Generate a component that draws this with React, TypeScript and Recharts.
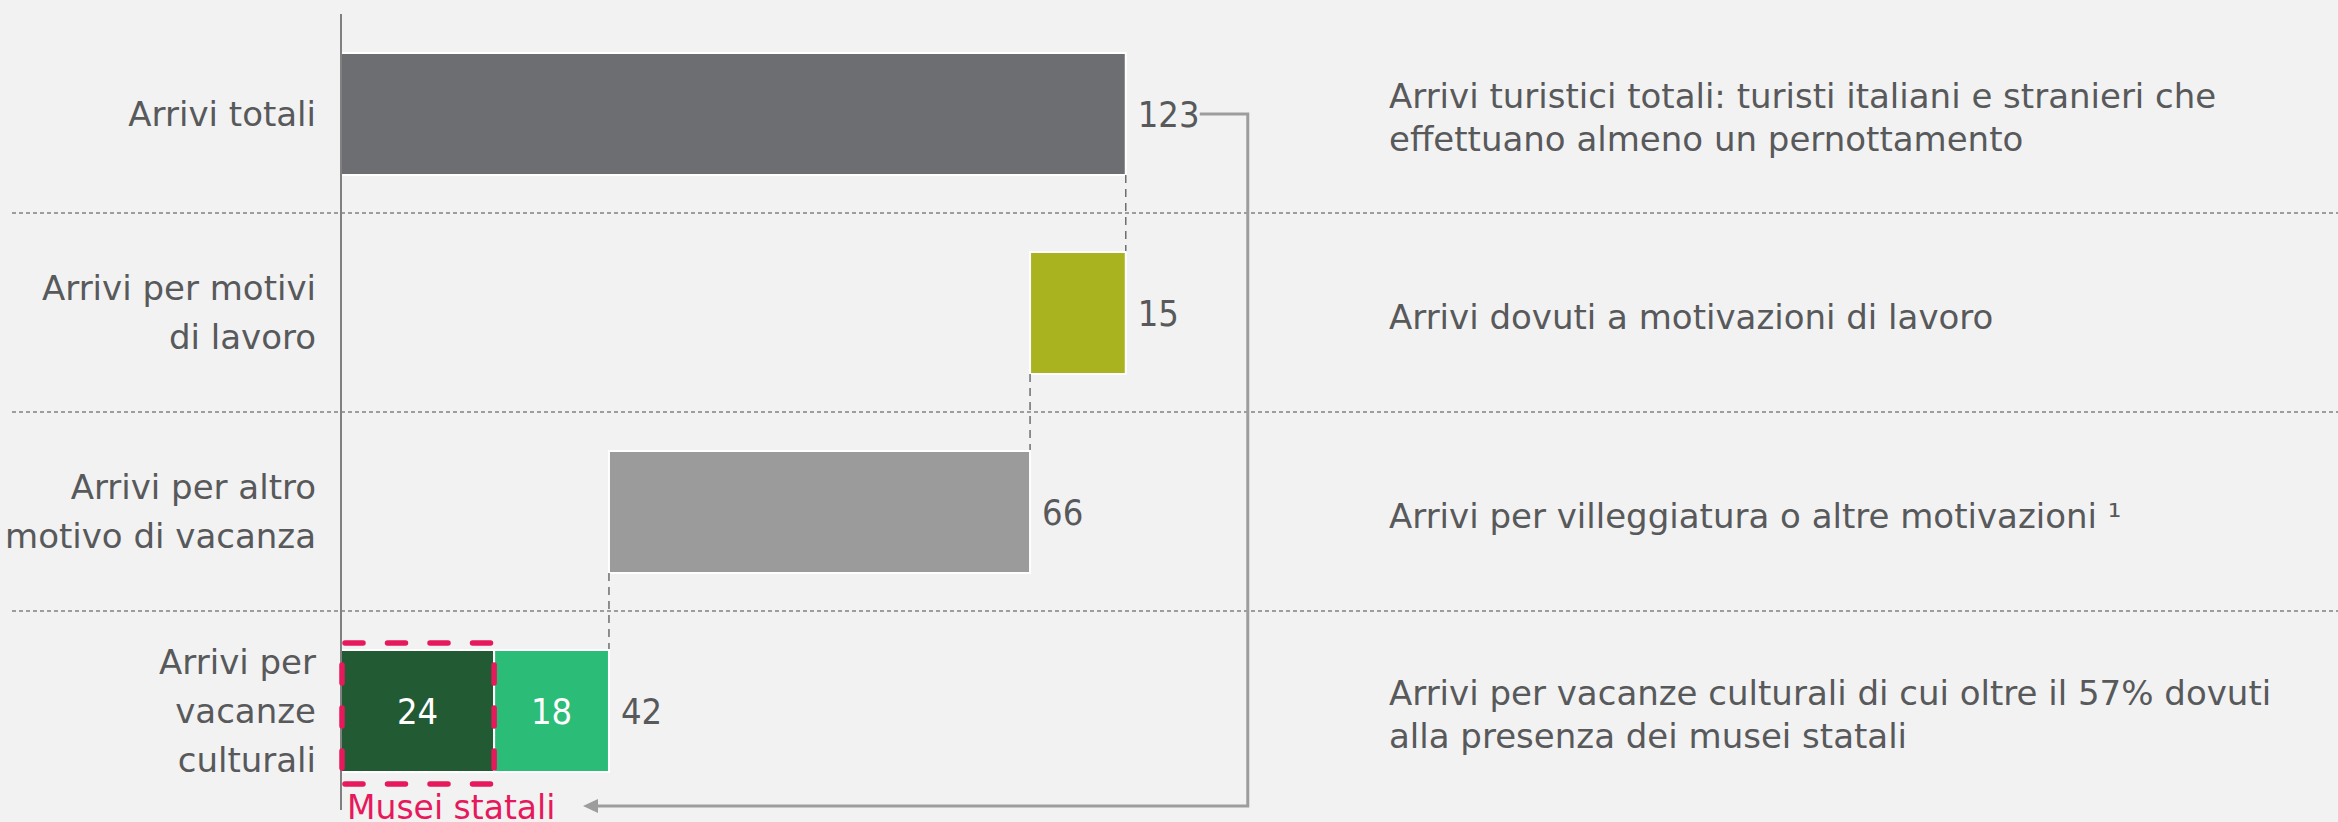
import { BarChart, Bar, XAxis, YAxis, CartesianGrid, LabelList, Rectangle } from "recharts";

const CHART_W = 2338;
const CHART_H = 822;
const MARGIN = { top: 14, right: 0, bottom: 12, left: 0 };
const AXIS_W = 341;
const BAR_SIZE = 122;
const X_MAX = 313;
const FONT = "'DejaVu Sans', sans-serif";
const NUM_FONT = "'DejaVu Sans Condensed', 'DejaVu Sans', sans-serif";
const TEXT = "#58595b";
const PINK = "#e6195c";

const categories = [
  "Arrivi totali",
  "Arrivi per motivi di lavoro",
  "Arrivi per altro motivo di vacanza",
  "Arrivi per vacanze culturali",
];
const categoryLines = [
  ["Arrivi totali"],
  ["Arrivi per motivi", "di lavoro"],
  ["Arrivi per altro", "motivo di vacanza"],
  ["Arrivi per", "vacanze", "culturali"],
];
const descriptions = [
  ["Arrivi turistici totali: turisti italiani e stranieri che", "effettuano almeno un pernottamento"],
  ["Arrivi dovuti a motivazioni di lavoro"],
  ["Arrivi per villeggiatura o altre motivazioni ¹"],
  ["Arrivi per vacanze culturali di cui oltre il 57% dovuti", "alla presenza dei musei statali"],
];
const baseOffsets = [0, 108, 42, 0];
const stepValues = [123, 15, 66, null];
const museiStatali = [null, null, null, 24];
const altriCulturali = [null, null, null, 18];
const totaleCulturali = [null, null, null, 42];
const stepColors = ["#6d6e71", "#a9b21f", "#9b9b9b"];

const data = categories.map((name, i) => ({
  name,
  base: baseOffsets[i],
  step: stepValues[i],
  musei: museiStatali[i],
  altri: altriCulturali[i],
  totale: totaleCulturali[i],
}));

const BAND = (CHART_H - MARGIN.top - MARGIN.bottom) / categories.length;
const GAP = BAND - BAR_SIZE;
const separators = categories.slice(1).map((_, i) => MARGIN.top + (i + 1) * BAND);

function CategoryTick(props: any) {
  const { x, y, payload } = props;
  const i = categories.indexOf(payload.value);
  const lines = categoryLines[i] || [];
  const desc = descriptions[i] || [];
  return (
    <g>
      <text textAnchor="end" fill={TEXT} fontSize={34} fontFamily={FONT}>
        {lines.map((l, k) => (
          <tspan key={k} x={x} y={y + (k - (lines.length - 1) / 2) * 49 + 12}>
            {l}
          </tspan>
        ))}
      </text>
      <text textAnchor="start" fill={TEXT} fontSize={34} fontFamily={FONT}>
        {desc.map((l, k) => (
          <tspan key={k} x={1389} y={y + (k - (desc.length - 1) / 2) * 43 + 16}>
            {l}
          </tspan>
        ))}
      </text>
    </g>
  );
}

function connector(x: number, y: number) {
  return (
    <line x1={x} x2={x} y1={y - GAP} y2={y} stroke="#6d6e71" strokeWidth={1.5} strokeDasharray="8 6" />
  );
}

function StepShape(props: any) {
  const { x, y, width, height, index } = props;
  if (!width || !height) return <g />;
  return (
    <g>
      {index > 0 && connector(x + width, y)}
      <Rectangle x={x} y={y} width={width} height={height} fill={stepColors[index]} stroke="#ffffff" strokeWidth={2} />
    </g>
  );
}

function AltriShape(props: any) {
  const { x, y, width, height } = props;
  if (!width || !height) return <g />;
  return (
    <g>
      {connector(x + width, y)}
      <Rectangle x={x} y={y} width={width} height={height} fill="#2bbc78" stroke="#ffffff" strokeWidth={2} />
    </g>
  );
}

function MuseiShape(props: any) {
  const { x, y, width, height } = props;
  if (!width || !height) return <g />;
  return <Rectangle x={x} y={y} width={width} height={height} fill="#225b33" stroke="#ffffff" strokeWidth={2} />;
}

function box(props: any) {
  const vb = props.viewBox && props.viewBox.width != null ? props.viewBox : props;
  return { x: vb.x, y: vb.y, width: vb.width, height: vb.height };
}

function OutsideLabel(props: any) {
  const { value, index } = props;
  if (value == null) return null;
  const { x, y, width, height } = box(props);
  const tx = x + width + 12;
  const cy = y + height / 2;
  const tipX = MARGIN.left + AXIS_W + 242;
  const bottomY = CHART_H - 16;
  return (
    <g>
      <text x={tx} y={cy + 13} fill={TEXT} fontSize={36} fontFamily={NUM_FONT} style={{ fontStretch: "condensed" }}>
        {value}
      </text>
      {index === 0 && (
        <g>
          <path
            d={`M ${tx + 62} ${cy} H ${tx + 110} V ${bottomY} H ${tipX + 14}`}
            fill="none"
            stroke="#9d9d9d"
            strokeWidth={3}
          />
          <polygon points={`${tipX},${bottomY} ${tipX + 15},${bottomY - 7} ${tipX + 15},${bottomY + 7}`} fill="#9d9d9d" />
        </g>
      )}
    </g>
  );
}

function InsideLabel(props: any) {
  const { value } = props;
  if (value == null) return null;
  const { x, y, width, height } = box(props);
  return (
    <text
      x={x + width / 2}
      y={y + height / 2 + 13}
      textAnchor="middle"
      fill="#ffffff"
      fontSize={36}
      fontFamily={NUM_FONT}
      style={{ fontStretch: "condensed" }}
    >
      {value}
    </text>
  );
}

// pink dashed frame around the "musei statali" segment, drawn above all bars
function MuseiLabel(props: any) {
  const { value } = props;
  if (value == null) return null;
  const { x, y, width, height } = box(props);
  const L = x + 1;
  const R = x + width;
  const T = y - 7;
  const B = y + height + 12;
  const dash = { stroke: PINK, strokeWidth: 5.5, strokeLinecap: "round" as const };
  return (
    <g>
      <line x1={L + 3} x2={R - 3} y1={T} y2={T} strokeDasharray="18 24.5" {...dash} />
      <line x1={L + 3} x2={R - 3} y1={B} y2={B} strokeDasharray="18 24.5" {...dash} />
      <line x1={L} x2={L} y1={T + 22} y2={B - 16} strokeDasharray="18 25" {...dash} />
      <line x1={R} x2={R} y1={T + 22} y2={B - 16} strokeDasharray="18 25" {...dash} />
      <InsideLabel {...props} />
      <text x={x + 6} y={y + height + 47} fill={PINK} fontSize={33} fontFamily={FONT}>
        Musei statali
      </text>
    </g>
  );
}

export default function App() {
  return (
    <div style={{ position: "absolute", left: 0, top: 0, width: CHART_W, height: CHART_H, background: "#f2f2f2" }}>
      <BarChart width={CHART_W} height={CHART_H} data={data} layout="vertical" margin={MARGIN} barSize={BAR_SIZE}>
        <CartesianGrid
          x={12}
          width={CHART_W - 12}
          vertical={false}
          horizontalPoints={separators}
          stroke="#9d9d9d"
          strokeWidth={2}
          strokeDasharray="4 3"
        />
        <XAxis type="number" domain={[0, X_MAX]} allowDataOverflow hide />
        <YAxis
          type="category"
          dataKey="name"
          width={AXIS_W}
          tickLine={false}
          tickSize={0}
          tickMargin={25}
          axisLine={{ stroke: "#808080", strokeWidth: 2 }}
          tick={(p: any) => <CategoryTick {...p} />}
        />
        <Bar dataKey="base" stackId="w" fill="transparent" isAnimationActive={false} />
        <Bar dataKey="step" stackId="w" shape={(p: any) => <StepShape {...p} />} isAnimationActive={false}>
          <LabelList dataKey="step" content={(p: any) => <OutsideLabel {...p} />} />
        </Bar>
        <Bar dataKey="musei" stackId="w" shape={(p: any) => <MuseiShape {...p} />} isAnimationActive={false}>
          <LabelList dataKey="musei" content={(p: any) => <MuseiLabel {...p} />} />
        </Bar>
        <Bar dataKey="altri" stackId="w" shape={(p: any) => <AltriShape {...p} />} isAnimationActive={false}>
          <LabelList dataKey="altri" content={(p: any) => <InsideLabel {...p} />} />
          <LabelList dataKey="totale" content={(p: any) => <OutsideLabel {...p} />} />
        </Bar>
      </BarChart>
    </div>
  );
}
